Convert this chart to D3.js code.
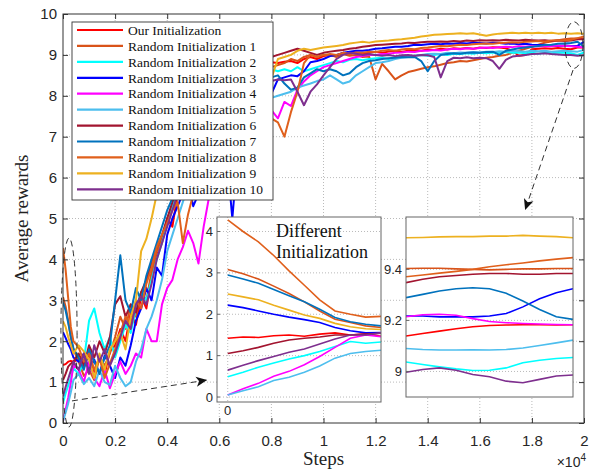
<!DOCTYPE html>
<html lang="en">
<head>
<meta charset="utf-8">
<title>Average rewards vs steps</title>
<script src="https://cdn.jsdelivr.net/npm/d3@7"></script>
<style>
  body { margin: 0; background: #fff; }
  svg { display: block; }
</style>
</head>
<body>
<script>

// ---- data -------------------------------------------------------------

var seriesNames = ["Our Initialization", "Random Initialization 1", "Random Initialization 2",
  "Random Initialization 3", "Random Initialization 4", "Random Initialization 5",
  "Random Initialization 6", "Random Initialization 7", "Random Initialization 8",
  "Random Initialization 9", "Random Initialization 10"];

var seriesColors = ["#ff0000", "#d95319", "#00ffff", "#0000ff", "#ff00ff", "#4dbeee",
  "#a2142f", "#0072bd", "#e0601c", "#edb120", "#7e2f8e"];

var xTicks = [0, 2000, 4000, 6000, 8000, 10000, 12000, 14000, 16000, 18000, 20000];
var yTicks = [0, 1, 2, 3, 4, 5, 6, 7, 8, 9, 10];

var steps = [0, 100, 200, 300, 400,
  600, 800, 1000, 1200, 1400, 1600, 1800, 2000,
  2200, 2400, 2600, 2800, 3000, 3200, 3400, 3600,
  3800, 4000, 4200, 4400, 4600, 4800, 5000, 5200,
  5400, 5600, 5800, 6000,
  6250, 6500, 6750, 7000, 7250, 7500, 7750, 8000,
  8250, 8500, 8750, 9000, 9250, 9500, 9750, 10000,
  10250, 10500, 10750, 11000, 11250, 11500, 11750, 12000,
  12250, 12500, 12750, 13000, 13250, 13500, 13750, 14000,
  14250, 14500, 14750, 15000, 15250, 15500, 15750, 16000,
  16250, 16500, 16750, 17000, 17250, 17500, 17750, 18000,
  18250, 18500, 18750, 19000, 19250, 19500, 19750, 20000];

var ourInit = [1.42, 1.44, 1.50, 1.52, 1.50,
  1.55, 1.35, 1.70, 1.25, 1.60, 1.20, 1.75, 1.90,
  2.30, 2.00, 2.70, 2.40, 3.10, 2.80, 3.60, 4.10,
  4.40, 5.00, 4.80, 5.60, 6.00, 6.30, 6.90, 7.20,
  7.50, 7.80, 8.10, 8.30,
  8.40, 8.60, 8.50, 8.70, 8.80, 8.70, 8.80, 8.82,
  8.80, 8.83, 8.85, 8.80, 8.90, 8.95, 8.90, 8.97,
  9.00, 8.98, 9.05, 9.02, 9.06, 9.03, 9.05, 9.08,
  9.05, 9.08, 9.10, 9.07, 9.10, 9.12, 9.10, 9.13,
  9.12, 9.15, 9.13, 9.16, 9.15, 9.17, 9.15, 9.18,
  9.17, 9.19, 9.18, 9.16, 9.10, 8.98, 9.00, 9.14,
  9.15, 9.16, 9.15, 9.17, 9.15, 9.14, 9.18, 9.18];

var rand1 = [3.08, 2.85, 2.50, 2.08, 1.80,
  1.50, 1.15, 1.30, 1.05, 1.60, 1.40, 1.70, 2.10,
  2.60, 2.30, 2.90, 2.60, 3.20, 3.00, 3.70, 4.20,
  4.50, 5.00, 5.30, 5.80, 6.10, 6.40, 6.80, 7.10,
  7.30, 7.60, 7.80, 8.00,
  8.10, 8.30, 8.20, 8.40, 8.50, 8.40, 8.60, 8.70,
  8.75, 8.80, 8.90, 8.85, 8.95, 9.00, 8.95, 9.00,
  9.00, 8.95, 9.02, 8.98, 9.00, 8.95, 8.96, 8.40,
  8.78, 8.60, 8.40, 8.50, 8.58, 8.62, 8.66, 8.70,
  8.72, 8.76, 8.80, 8.82, 8.85, 8.84, 8.87, 8.90,
  8.93, 8.95, 8.98, 9.00, 9.05, 9.10, 9.15, 9.20,
  9.25, 9.30, 9.33, 9.36, 9.38, 9.40, 9.40, 9.40];

var rand2 = [0.49, 0.72, 0.92, 1.10, 1.34,
  1.20, 1.50, 2.50, 2.80, 2.20, 1.80, 2.10, 1.60,
  2.00, 2.40, 2.20, 2.80, 3.20, 3.00, 3.50, 4.00,
  4.40, 4.90, 5.30, 5.70, 6.00, 6.40, 6.70, 7.00,
  7.30, 7.60, 7.80, 8.00,
  8.20, 8.30, 8.50, 8.40, 8.60, 8.55, 8.70, 8.65,
  8.60, 8.65, 8.60, 8.70, 8.60, 8.65, 8.70, 8.75,
  8.80, 8.85, 8.82, 8.88, 8.90, 8.87, 8.90, 8.92,
  8.93, 8.90, 8.95, 8.97, 8.95, 8.98, 9.00, 8.98,
  9.00, 9.02, 9.00, 9.03, 9.02, 9.04, 9.03, 9.05,
  9.04, 9.06, 9.05, 9.07, 9.05, 9.06, 9.04, 9.05,
  9.03, 9.05, 9.04, 9.06, 9.05, 9.04, 9.00, 9.06];

var rand3 = [2.22, 2.08, 1.93, 1.80, 1.60,
  1.50, 1.70, 1.30, 1.55, 1.20, 1.65, 1.40, 1.10,
  1.60, 1.40, 1.90, 2.50, 2.80, 3.30, 3.00, 3.80,
  3.60, 4.60, 5.00, 5.30, 5.60, 5.90, 5.30, 5.60,
  6.00, 6.40, 6.80, 7.00,
  6.80, 5.00, 6.90, 7.30, 7.50, 7.70, 7.90, 8.05,
  8.40, 8.45, 8.50, 8.48, 8.60, 8.82, 8.85, 8.90,
  8.97, 9.00, 9.05, 9.08, 9.10, 9.10, 9.12, 9.15,
  9.16, 9.18, 9.20, 9.20, 9.22, 9.25, 9.24, 9.26,
  9.27, 9.26, 9.28, 9.27, 9.29, 9.28, 9.30, 9.29,
  9.28, 9.30, 9.29, 9.27, 9.28, 9.26, 9.27, 9.25,
  9.24, 9.25, 9.23, 9.22, 9.23, 9.22, 9.22, 9.32];

var rand4 = [0.05, 0.33, 0.62, 0.98, 1.42,
  1.30, 1.00, 1.50, 1.10, 0.90, 1.30, 0.85, 1.20,
  1.50, 1.20, 1.40, 1.70, 1.60, 2.30, 2.00, 2.00,
  2.90, 3.30, 3.50, 4.00, 4.30, 4.70, 4.40, 3.90,
  4.80, 5.50, 6.20, 6.80,
  7.00, 7.20, 7.10, 7.40, 7.30, 7.50, 7.60, 7.65,
  7.45, 7.85, 7.75, 8.15, 8.35, 8.50, 8.60, 8.70,
  8.75, 8.80, 8.85, 8.90, 8.95, 8.97, 9.00, 9.00,
  9.02, 9.03, 9.05, 9.06, 9.08, 9.07, 9.10, 9.10,
  9.12, 9.11, 9.13, 9.15, 9.14, 9.16, 9.15, 9.17,
  9.18, 9.17, 9.19, 9.20, 9.19, 9.21, 9.20, 9.22,
  9.21, 9.22, 9.21, 9.23, 9.22, 9.21, 9.20, 9.18];

var rand5 = [0.05, 0.25, 0.48, 0.75, 1.05,
  1.20, 0.95, 1.10, 0.90, 1.30, 1.00, 0.93, 1.40,
  1.10, 0.90, 1.00, 1.50, 1.80, 2.30, 2.60, 3.00,
  3.50, 4.20, 4.60, 5.00, 5.40, 5.80, 6.10, 6.40,
  6.70, 7.00, 7.20, 7.40,
  7.50, 7.60, 7.70, 7.65, 7.80, 7.85, 7.90, 7.95,
  8.00, 8.05, 8.10, 8.20, 8.25, 8.30, 8.36, 8.40,
  8.50, 8.40, 8.30, 8.35, 8.50, 8.60, 8.70, 8.80,
  8.82, 8.85, 8.90, 8.93, 8.95, 8.97, 9.00, 9.02,
  9.03, 9.02, 9.05, 9.04, 9.06, 9.05, 9.07, 9.06,
  9.08, 9.07, 9.09, 9.08, 9.10, 9.09, 9.08, 9.10,
  9.09, 9.10, 9.08, 9.09, 9.10, 9.09, 9.08, 9.12];

var rand6 = [1.05, 1.20, 1.38, 1.45, 1.50,
  1.70, 1.40, 1.90, 1.60, 2.00, 1.70, 2.10, 2.90,
  3.10, 2.60, 2.90, 2.70, 3.20, 3.50, 3.90, 4.30,
  4.60, 5.00, 5.40, 5.80, 6.20, 6.50, 6.80, 7.10,
  7.40, 7.70, 7.90, 8.10,
  8.30, 8.50, 8.60, 8.70, 8.80, 8.85, 8.90, 8.95,
  9.00, 9.05, 9.10, 9.15, 9.10, 9.05, 9.00, 9.05,
  9.08, 9.10, 9.12, 9.15, 9.17, 9.20, 9.22, 9.24,
  9.25, 9.26, 9.27, 9.28, 9.30, 9.29, 9.31, 9.32,
  9.32, 9.33, 9.32, 9.34, 9.33, 9.35, 9.34, 9.36,
  9.35, 9.36, 9.35, 9.37, 9.36, 9.35, 9.37, 9.36,
  9.35, 9.36, 9.34, 9.35, 9.34, 9.35, 9.38, 9.38];

var rand7 = [2.95, 2.75, 2.45, 2.12, 1.82,
  1.60, 1.30, 1.80, 1.50, 1.20, 1.60, 1.90, 3.00,
  4.10, 3.00, 2.70, 3.30, 3.00, 3.60, 4.00, 4.40,
  4.80, 5.20, 5.50, 5.90, 6.30, 6.60, 6.90, 7.20,
  7.40, 7.60, 7.80, 8.00,
  8.10, 8.20, 8.30, 8.25, 8.35, 8.30, 8.40, 8.45,
  8.50, 8.30, 8.15, 8.20, 8.45, 8.55, 8.65, 8.60,
  8.65, 8.60, 8.50, 8.55, 8.70, 8.80, 8.85, 8.87,
  8.90, 8.92, 8.93, 8.95, 8.94, 8.95, 8.85, 8.60,
  8.85, 9.00, 9.02, 9.04, 9.03, 9.05, 9.06, 9.05,
  9.07, 9.08, 9.00, 9.10, 9.13, 9.16, 9.18, 9.20,
  9.22, 9.24, 9.25, 9.27, 9.28, 9.29, 9.32, 9.20];

var rand8 = [4.28, 3.75, 3.05, 2.35, 2.00,
  1.85, 1.50, 1.70, 1.30, 1.60, 1.10, 1.45, 1.80,
  2.20, 2.60, 2.40, 3.00, 2.80, 3.40, 3.80, 4.30,
  4.60, 4.90, 5.20, 5.40, 4.40, 5.10, 5.60, 6.00,
  6.30, 6.60, 6.90, 7.10,
  7.20, 7.40, 7.30, 7.50, 7.40, 7.60, 7.50, 7.45,
  7.35, 7.00, 7.60, 8.10, 8.80, 9.00, 8.95, 9.00,
  9.02, 9.00, 9.05, 9.03, 9.06, 9.05, 9.08, 9.07,
  9.10, 9.12, 9.10, 9.13, 9.15, 9.14, 9.17, 9.18,
  9.20, 9.22, 9.21, 9.23, 9.25, 9.24, 9.26, 9.27,
  9.28, 9.27, 9.29, 9.30, 9.31, 9.30, 9.32, 9.33,
  9.34, 9.33, 9.35, 9.36, 9.35, 9.37, 9.41, 9.45];

var rand9 = [2.49, 2.35, 2.10, 1.90, 1.70,
  1.90, 1.75, 1.55, 1.10, 1.70, 1.30, 1.80, 2.00,
  2.20, 1.80, 2.60, 3.00, 4.20, 4.50, 5.00, 5.60,
  6.00, 6.40, 6.70, 7.00, 7.30, 7.50, 7.70, 7.90,
  8.00, 8.10, 8.20, 8.30,
  8.35, 8.40, 8.50, 8.45, 8.50, 8.40, 8.45, 8.43,
  8.90, 8.95, 9.00, 9.10, 9.15, 9.12, 9.15, 9.18,
  9.20, 9.22, 9.24, 9.28, 9.30, 9.32, 9.30, 9.33,
  9.34, 9.35, 9.37, 9.38, 9.40, 9.42, 9.45, 9.47,
  9.49, 9.50, 9.51, 9.52, 9.53, 9.52, 9.53, 9.50,
  9.47, 9.50, 9.52, 9.53, 9.54, 9.53, 9.54, 9.53,
  9.54, 9.53, 9.54, 9.52, 9.53, 9.52, 9.53, 9.52];

var rand10 = [0.65, 0.88, 1.08, 1.28, 1.50,
  1.30, 1.70, 1.20, 1.90, 1.50, 1.80, 1.40, 1.70,
  2.10, 2.50, 2.30, 2.90, 3.10, 2.90, 3.40, 4.00,
  4.40, 4.80, 5.20, 5.60, 6.00, 6.40, 6.70, 7.00,
  7.30, 7.60, 7.80, 8.00,
  8.10, 8.20, 8.25, 8.30, 8.35, 8.30, 8.35, 8.36,
  8.40, 8.38, 8.40, 8.10, 7.77, 8.10, 8.28, 8.50,
  8.70, 8.90, 9.00, 9.05, 9.03, 9.00, 9.02, 9.00,
  8.98, 9.00, 8.97, 8.99, 9.00, 8.98, 9.00, 8.99,
  8.95, 8.45, 8.85, 8.93, 8.92, 8.94, 8.92, 8.93,
  8.92, 8.85, 8.66, 8.88, 8.96, 8.98, 9.00, 9.02,
  9.03, 9.04, 9.02, 9.01, 9.00, 9.00, 8.98, 8.99];

// zoom on the first 500 steps (rows in legend order)
var startSteps = [0, 50, 100, 150, 200, 250, 300, 350, 400, 450, 500];
var startValues = [
  [1.42, 1.45, 1.44, 1.48, 1.50, 1.47, 1.52, 1.55, 1.50, 1.53, 1.47],
  [3.08, 2.98, 2.85, 2.68, 2.50, 2.30, 2.08, 1.88, 1.80, 1.72, 1.68],
  [0.49, 0.60, 0.72, 0.82, 0.92, 1.00, 1.10, 1.22, 1.34, 1.30, 1.33],
  [2.22, 2.16, 2.08, 2.00, 1.93, 1.87, 1.80, 1.68, 1.60, 1.55, 1.56],
  [0.05, 0.20, 0.33, 0.50, 0.62, 0.78, 0.98, 1.20, 1.42, 1.50, 1.46],
  [0.05, 0.15, 0.25, 0.40, 0.48, 0.60, 0.75, 0.94, 1.05, 1.10, 1.13],
  [1.05, 1.12, 1.20, 1.30, 1.38, 1.42, 1.45, 1.50, 1.50, 1.52, 1.54],
  [2.95, 2.85, 2.75, 2.60, 2.45, 2.30, 2.12, 1.92, 1.82, 1.76, 1.72],
  [4.28, 4.00, 3.75, 3.42, 3.05, 2.70, 2.35, 2.08, 2.00, 1.93, 1.95],
  [2.49, 2.42, 2.35, 2.22, 2.10, 1.98, 1.90, 1.78, 1.70, 1.65, 1.63],
  [0.65, 0.77, 0.88, 0.98, 1.08, 1.16, 1.28, 1.40, 1.50, 1.50, 1.55]];
var startTicks = [0, 1, 2, 3, 4];

// zoom on the last 500 steps
var endSteps = [19500, 19550, 19600, 19650, 19700, 19750, 19800, 19850, 19900, 19950, 20000];
var endValues = [
  [9.139, 9.149, 9.158, 9.167, 9.175, 9.180, 9.182, 9.183, 9.183, 9.182, 9.183],
  [9.403, 9.404, 9.404, 9.402, 9.400, 9.398, 9.400, 9.402, 9.402, 9.403, 9.403],
  [9.037, 9.027, 9.018, 9.010, 9.004, 9.005, 9.014, 9.034, 9.044, 9.051, 9.055],
  [9.217, 9.217, 9.214, 9.214, 9.214, 9.217, 9.227, 9.253, 9.285, 9.308, 9.324],
  [9.214, 9.222, 9.224, 9.220, 9.207, 9.196, 9.191, 9.188, 9.186, 9.184, 9.183],
  [9.090, 9.086, 9.084, 9.084, 9.085, 9.084, 9.086, 9.092, 9.102, 9.112, 9.123],
  [9.348, 9.361, 9.371, 9.376, 9.381, 9.384, 9.384, 9.381, 9.381, 9.384, 9.384],
  [9.289, 9.302, 9.315, 9.324, 9.328, 9.324, 9.306, 9.276, 9.243, 9.214, 9.204],
  [9.371, 9.378, 9.385, 9.392, 9.400, 9.410, 9.418, 9.425, 9.433, 9.440, 9.446],
  [9.524, 9.525, 9.527, 9.528, 9.528, 9.530, 9.530, 9.533, 9.530, 9.528, 9.524],
  [8.997, 9.008, 9.014, 9.005, 8.988, 8.979, 8.962, 8.956, 8.969, 8.982, 8.986]];
var endTicks = [9, 9.2, 9.4];

var mainValues = [ourInit, rand1, rand2, rand3, rand4, rand5, rand6, rand7, rand8, rand9, rand10];

// ---- drawing ----------------------------------------------------------

var w = 595, h = 472;
var sans = "'Liberation Sans', Arial, Helvetica, sans-serif";
var serif = "'Liberation Serif', 'Times New Roman', serif";
var axisColor = "#333";

var svg = d3.select("body").append("svg")
  .attr("width", w).attr("height", h)
  .style("background", "#fff");

var defs = svg.append("defs");

//Main scales
var x = d3.scaleLinear().domain([0, 20000]).range([63, 584]);
var y = d3.scaleLinear().domain([0, 10]).range([423, 14]);

defs.append("clipPath").attr("id", "clipMain").append("rect")
  .attr("x", x.range()[0]).attr("y", y.range()[1])
  .attr("width", x.range()[1] - x.range()[0]).attr("height", y.range()[0] - y.range()[1]);

defs.append("marker")
  .attr("id", "head")
  .attr("viewBox", "-12 -6 14 12")
  .attr("refX", 0).attr("refY", 0)
  .attr("markerWidth", 14).attr("markerHeight", 12)
  .attr("markerUnits", "userSpaceOnUse")
  .attr("orient", "auto")
  .append("path")
  .attr("d", "M0,0 L-11,-5 L-8,0 L-11,5 Z")
  .attr("fill", "#111");

//Grid
var grid = svg.append("g").attr("stroke", "#a8a8a8").attr("stroke-width", 0.8)
  .attr("stroke-dasharray", "1,2");
grid.selectAll(".gx").data(xTicks.slice(1, -1)).enter().append("line")
  .attr("x1", d => x(d)).attr("x2", d => x(d))
  .attr("y1", y.range()[0]).attr("y2", y.range()[1]);
grid.selectAll(".gy").data(yTicks.slice(1, -1)).enter().append("line")
  .attr("x1", x.range()[0]).attr("x2", x.range()[1])
  .attr("y1", d => y(d)).attr("y2", d => y(d));

//Main lines
var mainLine = d3.line().x((d, i) => x(steps[i])).y(d => y(d));
svg.append("g").attr("clip-path", "url(#clipMain)")
  .selectAll("path").data(mainValues).enter().append("path")
  .attr("d", mainLine)
  .attr("fill", "none")
  .attr("stroke", (d, i) => seriesColors[i])
  .attr("stroke-width", 2)
  .attr("stroke-linejoin", "round");

//Axes
function styleAxis(g) {
  g.select(".domain").remove();
  g.selectAll(".tick line").attr("stroke", axisColor);
  g.selectAll(".tick text").attr("fill", "#262626")
    .style("font-family", sans).style("font-size", "15px");
}
var fmt = d => d3.format("~g")(d / 10000);

svg.append("g").attr("transform", "translate(0," + y.range()[0] + ")")
  .call(d3.axisBottom(x).tickValues(xTicks).tickFormat(fmt).tickSizeInner(-5).tickSizeOuter(0).tickPadding(12))
  .call(styleAxis);
svg.append("g").attr("transform", "translate(0," + y.range()[1] + ")")
  .call(d3.axisTop(x).tickValues(xTicks).tickFormat("").tickSizeInner(-5).tickSizeOuter(0))
  .call(styleAxis);
svg.append("g").attr("transform", "translate(" + x.range()[0] + ",0)")
  .call(d3.axisLeft(y).tickValues(yTicks).tickSizeInner(-5).tickSizeOuter(0).tickPadding(6))
  .call(styleAxis);
svg.append("g").attr("transform", "translate(" + x.range()[1] + ",0)")
  .call(d3.axisRight(y).tickValues(yTicks).tickFormat("").tickSizeInner(-5).tickSizeOuter(0))
  .call(styleAxis);

svg.append("rect")
  .attr("x", x.range()[0]).attr("y", y.range()[1])
  .attr("width", x.range()[1] - x.range()[0]).attr("height", y.range()[0] - y.range()[1])
  .attr("fill", "none").attr("stroke", axisColor).attr("stroke-width", 1);

//Axis titles
svg.append("text")
  .attr("x", (x.range()[0] + x.range()[1]) / 2).attr("y", 465)
  .attr("text-anchor", "middle")
  .style("font-family", serif).style("font-size", "19px").attr("fill", "#222")
  .text("Steps");

svg.append("text")
  .attr("transform", "translate(28," + ((y.range()[0] + y.range()[1]) / 2) + ") rotate(-90)")
  .attr("text-anchor", "middle")
  .style("font-family", serif).style("font-size", "19px").attr("fill", "#222")
  .text("Average rewards");

var expo = svg.append("text")
  .attr("x", x.range()[1] + 2).attr("y", 467)
  .attr("text-anchor", "end")
  .style("font-family", sans).style("font-size", "14px").attr("fill", "#262626");
expo.append("tspan").text("\u00d710");
expo.append("tspan").attr("dy", -6).style("font-size", "10px").text("4");

//Legend
var leg = svg.append("g").attr("transform", "translate(72,22)");
leg.append("rect").attr("width", 201).attr("height", 178)
  .attr("fill", "#fff").attr("stroke", axisColor).attr("stroke-width", 0.9);
var item = leg.selectAll("g.item").data(seriesNames).enter().append("g")
  .attr("transform", (d, i) => "translate(0," + (8 + i * 15.93) + ")");
item.append("line").attr("x1", 5).attr("x2", 51)
  .attr("stroke", (d, i) => seriesColors[i]).attr("stroke-width", 2.2);
item.append("text").attr("x", 56).attr("dy", "0.35em")
  .style("font-family", serif).style("font-size", "13.5px").attr("fill", "#111")
  .text(d => d);

//Inset helper
function drawInset(id, box, xs, xDom, yDom, values, yT, xT) {
  var ix = d3.scaleLinear().domain(xDom).range([box.x0, box.x1]);
  var iy = d3.scaleLinear().domain(yDom).range([box.y1, box.y0]);
  var g = svg.append("g");
  g.append("rect").attr("x", box.x0).attr("y", box.y0)
    .attr("width", box.x1 - box.x0).attr("height", box.y1 - box.y0)
    .attr("fill", "#fff");
  defs.append("clipPath").attr("id", id).append("rect")
    .attr("x", box.x0).attr("y", box.y0)
    .attr("width", box.x1 - box.x0).attr("height", box.y1 - box.y0);
  var gg = g.append("g").attr("stroke", "#a8a8a8").attr("stroke-width", 0.8).attr("stroke-dasharray", "1,2");
  gg.selectAll(".h").data(yT).enter().append("line")
    .attr("x1", box.x0).attr("x2", box.x1).attr("y1", d => iy(d)).attr("y2", d => iy(d));
  gg.selectAll(".v").data(xT).enter().append("line")
    .attr("x1", d => ix(d)).attr("x2", d => ix(d)).attr("y1", box.y0).attr("y2", box.y1);
  var ln = d3.line().x((d, i) => ix(xs[i])).y(d => iy(d));
  g.append("g").attr("clip-path", "url(#" + id + ")")
    .selectAll("path").data(values).enter().append("path")
    .attr("d", ln).attr("fill", "none")
    .attr("stroke", (d, i) => seriesColors[i]).attr("stroke-width", 1.6);
  g.selectAll(".yt").data(yT).enter().append("line")
    .attr("x1", box.x0).attr("x2", box.x0 + 3).attr("y1", d => iy(d)).attr("y2", d => iy(d))
    .attr("stroke", "#666");
  g.selectAll(".yl").data(yT).enter().append("text")
    .attr("x", box.x0 - 4).attr("y", d => iy(d)).attr("dy", "0.35em")
    .attr("text-anchor", "end")
    .style("font-family", sans).style("font-size", "13px").attr("fill", "#262626")
    .text(d => d3.format("~g")(d));
  g.selectAll(".xl").data(xT).enter().append("text")
    .attr("x", d => ix(d)).attr("y", box.y1 + 4).attr("dy", "0.71em")
    .attr("text-anchor", "middle")
    .style("font-family", sans).style("font-size", "13px").attr("fill", "#262626")
    .text(d => d3.format("~g")(d));
  g.append("rect").attr("x", box.x0).attr("y", box.y0)
    .attr("width", box.x1 - box.x0).attr("height", box.y1 - box.y0)
    .attr("fill", "none").attr("stroke", "#666").attr("stroke-width", 1);
  return g;
}

var inset1 = drawInset("clipStart", {x0: 217, x1: 381, y0: 217, y1: 402},
  startSteps, [-35, 500], [-0.12, 4.35], startValues, startTicks, [0]);
inset1.append("text").attr("x", 276).attr("y", 237)
  .style("font-family", serif).style("font-size", "18px").attr("fill", "#111")
  .text("Different");
inset1.append("text").attr("x", 276).attr("y", 258)
  .style("font-family", serif).style("font-size", "18px").attr("fill", "#111")
  .text("Initialization");

drawInset("clipEnd", {x0: 406, x1: 573, y0: 217, y1: 397},
  endSteps, [19500, 20000], [8.9, 9.605], endValues, endTicks, []);

//Annotations: dashed ellipses and arrows
var ann = svg.append("g").attr("fill", "none").attr("stroke", "#333")
  .attr("stroke-width", 1).attr("stroke-dasharray", "6,4");
var zoomArea1 = {s0: -80, s1: 540, v0: -0.1, v1: 4.52};
var zoomArea2 = {s0: 19270, s1: 19960, v0: 8.67, v1: 9.81};
[zoomArea1, zoomArea2].forEach(function(a) {
  ann.append("ellipse")
    .attr("cx", (x(a.s0) + x(a.s1)) / 2).attr("cy", (y(a.v0) + y(a.v1)) / 2)
    .attr("rx", (x(a.s1) - x(a.s0)) / 2).attr("ry", (y(a.v0) - y(a.v1)) / 2);
});
var arrows = [[[345, 0.54], [5530, 1.05]], [[19580, 8.63], [17740, 5.21]]];
arrows.forEach(function(a) {
  ann.append("line")
    .attr("x1", x(a[0][0])).attr("y1", y(a[0][1]))
    .attr("x2", x(a[1][0])).attr("y2", y(a[1][1]))
    .attr("marker-end", "url(#head)");
});

</script>
</body>
</html>
